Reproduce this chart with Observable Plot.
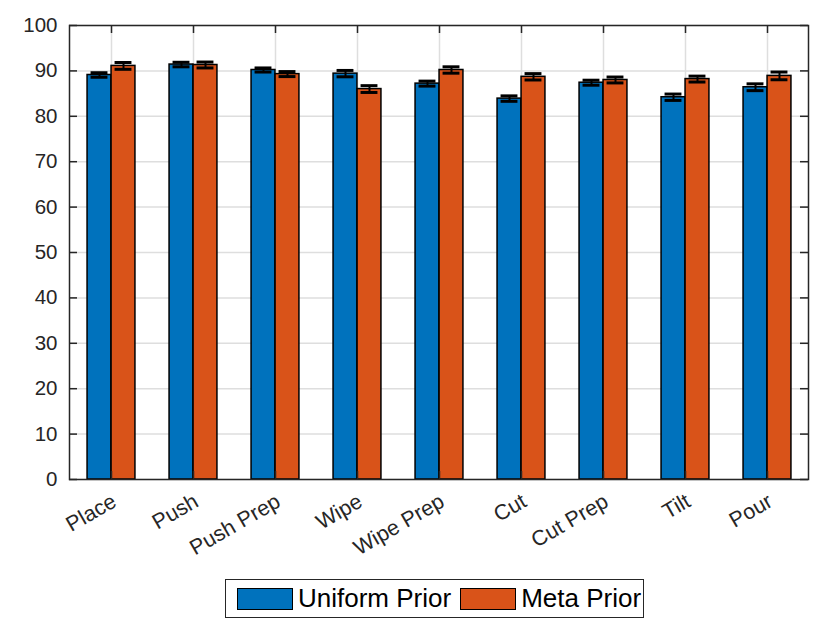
<!DOCTYPE html>
<html>
<head>
<meta charset="utf-8">
<script src="https://cdn.jsdelivr.net/npm/d3@7"></script>
<script src="https://cdn.jsdelivr.net/npm/@observablehq/plot@0.6"></script>
<style>
  body { margin: 0; background: #fff; font-family: "Liberation Sans", Arial, sans-serif; }
  #wrap { position: relative; width: 830px; height: 644px; }
  #legend { position: absolute; left: 225px; top: 579px; width: 417px; height: 37px;
    border: 1.5px solid #262626; display: flex; align-items: center; box-sizing: content-box;
    font-size: 26px; color: #000; }
  .sw { width: 54px; height: 20px; border: 1.5px solid #000; margin-left: 11px; margin-right: 5px; }
</style>
</head>
<body>
<div id="wrap">
  <div id="chart"></div>
  <div id="legend">
    <div class="sw" style="background:#0072BD"></div><span>Uniform Prior</span>
    <div class="sw" style="background:#D95319;margin-left:9px"></div><span>Meta Prior</span>
  </div>
</div>
<script>
const tasks = ["Place","Push","Push Prep","Wipe","Wipe Prep","Cut","Cut Prep","Tilt","Pour"];
const uniformVals = [89.1, 91.4, 90.2, 89.4, 87.2, 83.9, 87.4, 84.2, 86.4];
const metaVals    = [91.1, 91.3, 89.3, 86.0, 90.2, 88.7, 88.0, 88.2, 88.9];
const uniformErr  = [0.5, 0.5, 0.45, 0.7, 0.55, 0.6, 0.55, 0.7, 0.75];
const metaErr     = [0.75, 0.65, 0.55, 0.75, 0.7, 0.7, 0.65, 0.65, 0.85];
const yTicks = [0,10,20,30,40,50,60,70,80,90,100];

const W = 830, H = 560, ML = 69, MR = 22, MT = 25, MB = 81;
const bw = (W - ML - MR) / tasks.length;
const half = bw / 2;
const barW = 24;
const capW = 17;
const off = barW / 2;
const plotW = W - ML - MR, plotH = H - MT - MB;

const uni = tasks.map((t, i) => ({task: t, v: uniformVals[i], e: uniformErr[i]}));
const met = tasks.map((t, i) => ({task: t, v: metaVals[i], e: metaErr[i]}));

const chart = Plot.plot({
  width: W, height: H,
  marginLeft: ML, marginRight: MR, marginTop: MT, marginBottom: MB,
  style: {fontFamily: "'Liberation Sans', Arial, sans-serif", fontSize: "20.5px", color: "#262626", background: "#fff"},
  x: {type: "band", domain: tasks, padding: 0, label: null},
  y: {domain: [0, 100], label: null},
  marks: [
    Plot.gridX(tasks, {stroke: "#dedede", strokeOpacity: 1, strokeWidth: 1.5}),
    Plot.gridY(yTicks, {stroke: "#dedede", strokeOpacity: 1, strokeWidth: 1.5}),
    Plot.barY(uni, {x: "task", y: "v", fill: "#0072BD", stroke: "#000", strokeWidth: 1.5,
      insetLeft: half - barW, insetRight: half}),
    Plot.barY(met, {x: "task", y: "v", fill: "#D95319", stroke: "#000", strokeWidth: 1.5,
      insetLeft: half, insetRight: half - barW}),
    Plot.ruleX(uni, {x: "task", y1: d => d.v - d.e, y2: d => d.v + d.e, dx: -off, stroke: "#000", strokeWidth: 2}),
    Plot.ruleX(met, {x: "task", y1: d => d.v - d.e, y2: d => d.v + d.e, dx: off, stroke: "#000", strokeWidth: 2}),
    Plot.tickY(uni, {x: "task", y: d => d.v - d.e, stroke: "#000", strokeWidth: 3, insetLeft: half - off - capW/2, insetRight: half + off - capW/2}),
    Plot.tickY(uni, {x: "task", y: d => d.v + d.e, stroke: "#000", strokeWidth: 3, insetLeft: half - off - capW/2, insetRight: half + off - capW/2}),
    Plot.tickY(met, {x: "task", y: d => d.v - d.e, stroke: "#000", strokeWidth: 3, insetLeft: half + off - capW/2, insetRight: half - off - capW/2}),
    Plot.tickY(met, {x: "task", y: d => d.v + d.e, stroke: "#000", strokeWidth: 3, insetLeft: half + off - capW/2, insetRight: half - off - capW/2}),
    // inward ticks
    Plot.tickY(yTicks, {y: d => d, stroke: "#262626", strokeWidth: 1.5, insetRight: plotW - 8}),
    Plot.tickY(yTicks, {y: d => d, stroke: "#262626", strokeWidth: 1.5, insetLeft: plotW - 8}),
    Plot.tickX(tasks, {x: d => d, stroke: "#262626", strokeWidth: 1.5, insetTop: plotH - 8}),
    Plot.tickX(tasks, {x: d => d, stroke: "#262626", strokeWidth: 1.5, insetBottom: plotH - 8}),
    Plot.frame({stroke: "#262626", strokeWidth: 1.5}),
    Plot.axisY(yTicks, {tickSize: 0, tickPadding: 12, fill: "#262626"}),
    Plot.axisX({tickSize: 0, tickPadding: 16, dx: 3, dy: 4, tickRotate: -30, fontSize: 21.5, fill: "#262626"})
  ]
});
document.getElementById("chart").appendChild(chart);
</script>
</body>
</html>
